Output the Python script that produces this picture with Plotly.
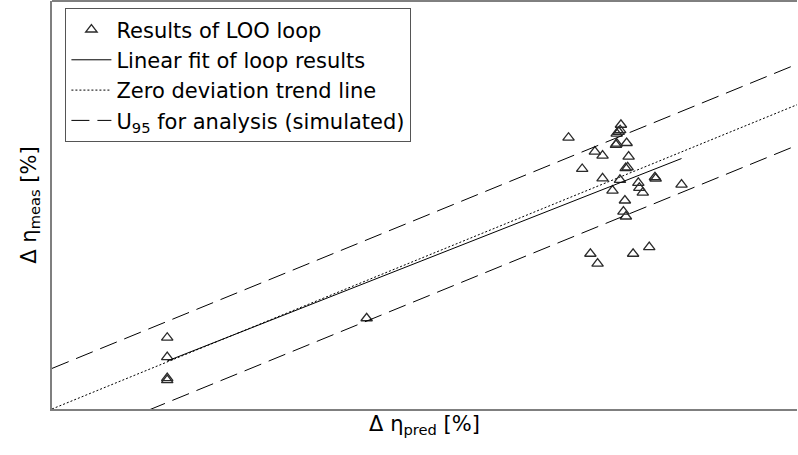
import numpy as np
import plotly.graph_objects as go

# Leave-one-out loop results: predicted vs measured efficiency change [%]
pred = [0.464, 0.464, 0.464, 0.464, 1.267,
        2.080, 2.291, 2.282, 2.288, 2.274, 2.271, 2.274, 2.314, 2.186, 2.217,
        2.322, 2.135, 2.318, 2.310, 2.217, 2.287, 2.361, 2.428, 2.431, 2.257,
        2.365, 2.379, 2.535, 2.307, 2.301, 2.311, 2.168, 2.197, 2.340, 2.405]
meas = [0.703, 0.511, 0.305, 0.285, 0.895,
        2.675, 2.803, 2.734, 2.749, 2.715, 2.604, 2.616, 2.623, 2.538, 2.498,
        2.488, 2.367, 2.383, 2.375, 2.275, 2.259, 2.230, 2.285, 2.272, 2.154,
        2.181, 2.134, 2.213, 2.056, 1.947, 1.898, 1.531, 1.433, 1.531, 1.597]

# Linear fit of the loop results (slope, intercept)
fit_slope = 0.964
fit_intercept = 0.026

# Simulated expanded uncertainty U95 of the analysis [%]
u95 = 0.40

x_range = [0.0, 3.0]
y_range = [0.0, 4.023]

font = "DejaVu Sans, Arial, sans-serif"

x_full = np.array(x_range)
x_fit = np.array([min(pred), max(pred)])

fig = go.Figure()
fig.add_trace(go.Scatter(
    x=pred, y=meas, mode="markers", name="Results of LOO loop",
    marker=dict(symbol="triangle-up-open", size=10, color="#2a2a2a",
                line=dict(width=1.3, color="#2a2a2a")),
))
fig.add_trace(go.Scatter(
    x=x_fit, y=fit_slope * x_fit + fit_intercept, mode="lines",
    name="Linear fit of loop results",
    line=dict(color="black", width=1),
))
fig.add_trace(go.Scatter(
    x=x_full, y=x_full, mode="lines", name="Zero deviation trend line",
    line=dict(color="black", width=1, dash="2px,2px"),
))
fig.add_trace(go.Scatter(
    x=x_full, y=x_full + u95, mode="lines",
    name="U<sub>95</sub> for analysis (simulated)",
    line=dict(color="black", width=1, dash="18px,8px"),
    legendgroup="u95",
))
fig.add_trace(go.Scatter(
    x=x_full, y=x_full - u95, mode="lines", showlegend=False,
    line=dict(color="black", width=1, dash="18px,8px"),
    legendgroup="u95",
))

# Upper frame edge
fig.add_shape(type="line", xref="paper", yref="paper", x0=0, x1=1, y0=1, y1=1,
              line=dict(color="black", width=1))

fig.update_layout(
    width=798, height=455,
    margin=dict(l=52, r=1, t=1, b=46),
    paper_bgcolor="white", plot_bgcolor="white",
    font=dict(family=font, color="black"),
    showlegend=True,
    legend=dict(
        x=0.018, y=0.982, xanchor="left", yanchor="top",
        bgcolor="white", bordercolor="#555555", borderwidth=1,
        font=dict(family=font, size=21, color="black"),
        itemwidth=40, tracegroupgap=0,
    ),
    xaxis=dict(
        range=x_range, showgrid=False, zeroline=False, showticklabels=False,
        ticks="", showline=True, linecolor="#7f7f7f", linewidth=2,
        title=dict(text="\u0394 \u03b7<sub>pred</sub> [%]", standoff=6,
                   font=dict(family=font, size=21)),
    ),
    yaxis=dict(
        range=y_range, showgrid=False, zeroline=False, showticklabels=False,
        ticks="", showline=True, linecolor="#7f7f7f", linewidth=2,
        title=dict(text="\u0394 \u03b7<sub>meas</sub> [%]", standoff=8,
                   font=dict(family=font, size=21)),
    ),
)

fig.write_html("out.html")
